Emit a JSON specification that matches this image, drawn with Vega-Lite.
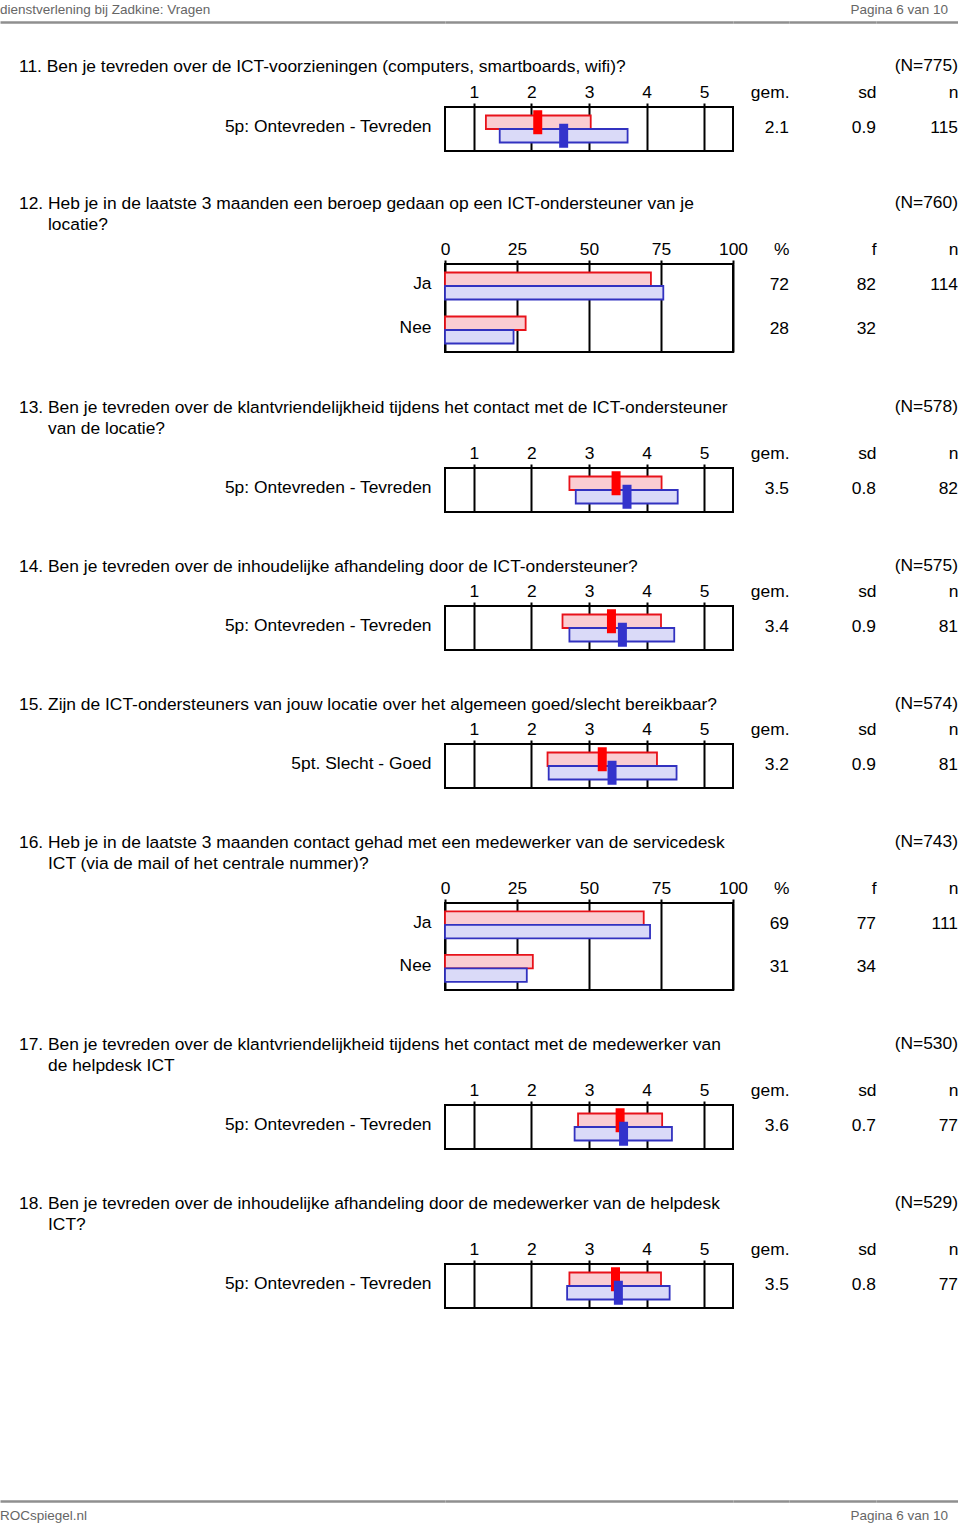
{
  "$schema": "https://vega.github.io/schema/vega-lite/v6.json",
  "padding": {"left": 0, "top": 2, "right": 0, "bottom": 0},
  "columns": 5,
  "spacing": 0,
  "bounds": "flush",
  "align": "each",
  "datasets": {
    "bars5": [
      {"q": 11, "row": "5p: Ontevreden - Tevreden", "group": "locatie", "mean": 2.11, "low": 1.21, "high": 3.03},
      {"q": 11, "row": "5p: Ontevreden - Tevreden", "group": "benchmark", "mean": 2.56, "low": 1.45, "high": 3.67},
      {"q": 13, "row": "5p: Ontevreden - Tevreden", "group": "locatie", "mean": 3.47, "low": 2.66, "high": 4.26},
      {"q": 13, "row": "5p: Ontevreden - Tevreden", "group": "benchmark", "mean": 3.66, "low": 2.77, "high": 4.54},
      {"q": 14, "row": "5p: Ontevreden - Tevreden", "group": "locatie", "mean": 3.39, "low": 2.54, "high": 4.25},
      {"q": 14, "row": "5p: Ontevreden - Tevreden", "group": "benchmark", "mean": 3.58, "low": 2.66, "high": 4.48},
      {"q": 15, "row": "5pt. Slecht - Goed", "group": "locatie", "mean": 3.23, "low": 2.28, "high": 4.18},
      {"q": 15, "row": "5pt. Slecht - Goed", "group": "benchmark", "mean": 3.4, "low": 2.3, "high": 4.52},
      {"q": 17, "row": "5p: Ontevreden - Tevreden", "group": "locatie", "mean": 3.54, "low": 2.81, "high": 4.27},
      {"q": 17, "row": "5p: Ontevreden - Tevreden", "group": "benchmark", "mean": 3.6, "low": 2.75, "high": 4.44},
      {"q": 18, "row": "5p: Ontevreden - Tevreden", "group": "locatie", "mean": 3.46, "low": 2.66, "high": 4.25},
      {"q": 18, "row": "5p: Ontevreden - Tevreden", "group": "benchmark", "mean": 3.51, "low": 2.62, "high": 4.4}
    ],
    "barsPct": [
      {"q": 12, "row": "Ja", "group": "locatie", "pct": 71.5},
      {"q": 12, "row": "Ja", "group": "benchmark", "pct": 75.8},
      {"q": 12, "row": "Nee", "group": "locatie", "pct": 28.0},
      {"q": 12, "row": "Nee", "group": "benchmark", "pct": 23.8},
      {"q": 16, "row": "Ja", "group": "locatie", "pct": 69.0},
      {"q": 16, "row": "Ja", "group": "benchmark", "pct": 71.2},
      {"q": 16, "row": "Nee", "group": "locatie", "pct": 30.5},
      {"q": 16, "row": "Nee", "group": "benchmark", "pct": 28.4}
    ],
    "stats": [
      {"q": 11, "row": "5p: Ontevreden - Tevreden", "col": 1, "stat": "gem.", "v": "2.1"},
      {"q": 11, "row": "5p: Ontevreden - Tevreden", "col": 2, "stat": "sd", "v": "0.9"},
      {"q": 11, "row": "5p: Ontevreden - Tevreden", "col": 3, "stat": "n", "v": "115"},
      {"q": 12, "row": "Ja", "col": 1, "stat": "%", "v": "72"},
      {"q": 12, "row": "Ja", "col": 2, "stat": "f", "v": "82"},
      {"q": 12, "row": "Ja", "col": 3, "stat": "n", "v": "114"},
      {"q": 12, "row": "Nee", "col": 1, "stat": "%", "v": "28"},
      {"q": 12, "row": "Nee", "col": 2, "stat": "f", "v": "32"},
      {"q": 13, "row": "5p: Ontevreden - Tevreden", "col": 1, "stat": "gem.", "v": "3.5"},
      {"q": 13, "row": "5p: Ontevreden - Tevreden", "col": 2, "stat": "sd", "v": "0.8"},
      {"q": 13, "row": "5p: Ontevreden - Tevreden", "col": 3, "stat": "n", "v": "82"},
      {"q": 14, "row": "5p: Ontevreden - Tevreden", "col": 1, "stat": "gem.", "v": "3.4"},
      {"q": 14, "row": "5p: Ontevreden - Tevreden", "col": 2, "stat": "sd", "v": "0.9"},
      {"q": 14, "row": "5p: Ontevreden - Tevreden", "col": 3, "stat": "n", "v": "81"},
      {"q": 15, "row": "5pt. Slecht - Goed", "col": 1, "stat": "gem.", "v": "3.2"},
      {"q": 15, "row": "5pt. Slecht - Goed", "col": 2, "stat": "sd", "v": "0.9"},
      {"q": 15, "row": "5pt. Slecht - Goed", "col": 3, "stat": "n", "v": "81"},
      {"q": 16, "row": "Ja", "col": 1, "stat": "%", "v": "69"},
      {"q": 16, "row": "Ja", "col": 2, "stat": "f", "v": "77"},
      {"q": 16, "row": "Ja", "col": 3, "stat": "n", "v": "111"},
      {"q": 16, "row": "Nee", "col": 1, "stat": "%", "v": "31"},
      {"q": 16, "row": "Nee", "col": 2, "stat": "f", "v": "34"},
      {"q": 17, "row": "5p: Ontevreden - Tevreden", "col": 1, "stat": "gem.", "v": "3.6"},
      {"q": 17, "row": "5p: Ontevreden - Tevreden", "col": 2, "stat": "sd", "v": "0.7"},
      {"q": 17, "row": "5p: Ontevreden - Tevreden", "col": 3, "stat": "n", "v": "77"},
      {"q": 18, "row": "5p: Ontevreden - Tevreden", "col": 1, "stat": "gem.", "v": "3.5"},
      {"q": 18, "row": "5p: Ontevreden - Tevreden", "col": 2, "stat": "sd", "v": "0.8"},
      {"q": 18, "row": "5p: Ontevreden - Tevreden", "col": 3, "stat": "n", "v": "77"}
    ]
  },
  "concat": [
    {"width": 445, "height": 85, "data": {"values": []}, "mark": "point",
     "encoding": {"x": {"field": "x", "type": "quantitative", "scale": {"domain": [0, 1]}, "axis": {"orient": "top", "domainColor": "#8f8f8f", "domainWidth": 2.5, "ticks": false, "labels": false, "grid": false}}},
     "title": {"text": "dienstverlening bij Zadkine: Vragen", "fontSize": 13.5, "color": "#666666", "offset": 6}},
    {"width": 288, "height": 85, "data": {"values": []}, "mark": "point",
     "encoding": {"x": {"field": "x", "type": "quantitative", "scale": {"domain": [0, 1]}, "axis": {"orient": "top", "domainColor": "#8f8f8f", "domainWidth": 2.5, "ticks": false, "labels": false, "grid": false}}}},
    {"width": 56, "height": 85, "data": {"values": []}, "mark": "point",
     "encoding": {"x": {"field": "x", "type": "quantitative", "scale": {"domain": [0, 1]}, "axis": {"orient": "top", "domainColor": "#8f8f8f", "domainWidth": 2.5, "ticks": false, "labels": false, "grid": false}}}},
    {"width": 87, "height": 85, "data": {"values": []}, "mark": "point",
     "encoding": {"x": {"field": "x", "type": "quantitative", "scale": {"domain": [0, 1]}, "axis": {"orient": "top", "domainColor": "#8f8f8f", "domainWidth": 2.5, "ticks": false, "labels": false, "grid": false}}}},
    {"width": 82, "height": 85, "data": {"values": []}, "mark": "point",
     "encoding": {"x": {"field": "x", "type": "quantitative", "scale": {"domain": [0, 1]}, "axis": {"orient": "top", "domainColor": "#8f8f8f", "domainWidth": 2.5, "ticks": false, "labels": false, "grid": false}}},
     "title": {"text": "Pagina 6 van 10", "anchor": "end", "dx": -10, "fontSize": 13.5, "color": "#666666", "offset": 6}},

    {"width": 445, "height": 157, "data": {"values": []}, "mark": "point",
     "title": {"text": "11. Ben je tevreden over de ICT-voorzieningen (computers, smartboards, wifi)?", "dx": 19, "offset": 32}},
    {"width": 288, "height": 44, "view": {"stroke": "black", "strokeWidth": 2},
     "data": {"name": "bars5"}, "transform": [{"filter": "datum.q == 11"}],
     "encoding": {
       "y": {"field": "row", "type": "nominal", "scale": {"paddingInner": 0.386, "paddingOuter": 0.193}, "axis": {"ticks": false, "tickSize": 0, "domain": false, "labelPadding": 14, "labelOffset": -2, "labelLimit": 400}},
       "yOffset": {"field": "group", "type": "nominal", "scale": {"domain": ["locatie", "benchmark"], "paddingInner": 0, "paddingOuter": 0}}
     },
     "layer": [
       {"mark": {"type": "bar", "strokeWidth": 1.8},
        "encoding": {
          "x": {"field": "low", "type": "quantitative", "scale": {"domain": [0.5, 5.5], "nice": false, "zero": false}, "axis": {"orient": "top", "values": [1, 2, 3, 4, 5], "format": "d", "domain": false, "tickSize": 4, "tickWidth": 2, "tickColor": "black", "labelPadding": 2, "grid": true, "gridColor": "black", "gridWidth": 2, "gridOpacity": 1, "labelFlush": false, "labelOverlap": false, "labelAngle": 0}},
          "x2": {"field": "high"},
          "fill": {"field": "group", "type": "nominal", "scale": {"domain": ["locatie", "benchmark"], "range": ["#facdd2", "#dadaf8"]}, "legend": null},
          "stroke": {"field": "group", "type": "nominal", "scale": {"domain": ["locatie", "benchmark"], "range": ["#e8121a", "#3232c0"]}, "legend": null}
        }},
       {"mark": {"type": "tick", "thickness": 9, "size": 24, "opacity": 1},
        "encoding": {
          "x": {"field": "mean", "type": "quantitative"},
          "color": {"field": "group", "type": "nominal", "scale": {"domain": ["locatie", "benchmark"], "range": ["#ff0000", "#3333cc"]}, "legend": null}
        }}
     ]},
    {"width": 56, "height": 44, "data": {"name": "stats"}, "transform": [{"filter": "datum.q == 11 && datum.col == 1"}],
     "mark": {"type": "text", "align": "right", "baseline": "middle", "fontSize": 17.4, "dy": -1, "dx": 28},
     "encoding": {
       "x": {"field": "stat", "type": "nominal", "scale": {"paddingInner": 0, "paddingOuter": 0}, "axis": {"orient": "top", "labelOffset": 28, "labelAlign": "right", "labelAngle": 0, "ticks": false, "tickSize": 0, "domain": false, "labelPadding": 6, "grid": false}},
       "y": {"field": "row", "type": "nominal", "scale": {"domain": ["5p: Ontevreden - Tevreden"], "paddingInner": 0.386, "paddingOuter": 0.193}, "axis": null},
       "text": {"field": "v"}
     }},
    {"width": 87, "height": 44, "data": {"name": "stats"}, "transform": [{"filter": "datum.q == 11 && datum.col == 2"}],
     "mark": {"type": "text", "align": "right", "baseline": "middle", "fontSize": 17.4, "dy": -1, "dx": 43.5},
     "encoding": {
       "x": {"field": "stat", "type": "nominal", "scale": {"paddingInner": 0, "paddingOuter": 0}, "axis": {"orient": "top", "labelOffset": 43.5, "labelAlign": "right", "labelAngle": 0, "ticks": false, "tickSize": 0, "domain": false, "labelPadding": 6, "grid": false}},
       "y": {"field": "row", "type": "nominal", "scale": {"domain": ["5p: Ontevreden - Tevreden"], "paddingInner": 0.386, "paddingOuter": 0.193}, "axis": null},
       "text": {"field": "v"}
     }},
    {"width": 82, "height": 44, "data": {"name": "stats"}, "transform": [{"filter": "datum.q == 11 && datum.col == 3"}],
     "title": {"text": "(N=775)", "anchor": "end", "offset": 9},
     "mark": {"type": "text", "align": "right", "baseline": "middle", "fontSize": 17.4, "dy": -1, "dx": 41},
     "encoding": {
       "x": {"field": "stat", "type": "nominal", "scale": {"paddingInner": 0, "paddingOuter": 0}, "axis": {"orient": "top", "labelOffset": 41, "labelAlign": "right", "labelAngle": 0, "ticks": false, "tickSize": 0, "domain": false, "labelPadding": 6, "grid": false}},
       "y": {"field": "row", "type": "nominal", "scale": {"domain": ["5p: Ontevreden - Tevreden"], "paddingInner": 0.386, "paddingOuter": 0.193}, "axis": null},
       "text": {"field": "v"}
     }},

    {"width": 445, "height": 204, "data": {"values": []}, "mark": "point",
     "title": {"text": "12. Heb je in de laatste 3 maanden een beroep gedaan op een ICT-ondersteuner van je", "dx": 19, "offset": 52}},
    {"width": 288, "height": 88, "view": {"stroke": "black", "strokeWidth": 2},
     "title": {"text": "locatie?", "dx": -397, "offset": 7},
     "data": {"name": "barsPct"}, "transform": [{"filter": "datum.q == 12"}],
     "mark": {"type": "bar", "strokeWidth": 1.8},
     "encoding": {
       "y": {"field": "row", "type": "nominal", "scale": {"domain": ["Ja", "Nee"], "paddingInner": 0.386, "paddingOuter": 0.193}, "axis": {"ticks": false, "tickSize": 0, "domain": false, "labelPadding": 14, "labelOffset": -2, "labelLimit": 400}},
       "yOffset": {"field": "group", "type": "nominal", "scale": {"domain": ["locatie", "benchmark"], "paddingInner": 0, "paddingOuter": 0}},
       "x": {"field": "pct", "type": "quantitative", "scale": {"domain": [0, 100], "nice": false}, "axis": {"orient": "top", "values": [0, 25, 50, 75, 100], "format": "d", "domain": false, "tickSize": 4, "tickWidth": 2, "tickColor": "black", "labelPadding": 2, "grid": true, "gridColor": "black", "gridWidth": 2, "gridOpacity": 1, "labelFlush": false, "labelOverlap": false, "labelAngle": 0}},
       "fill": {"field": "group", "type": "nominal", "scale": {"domain": ["locatie", "benchmark"], "range": ["#facdd2", "#dadaf8"]}, "legend": null},
       "stroke": {"field": "group", "type": "nominal", "scale": {"domain": ["locatie", "benchmark"], "range": ["#e8121a", "#3232c0"]}, "legend": null}
     }},
    {"width": 56, "height": 88, "data": {"name": "stats"}, "transform": [{"filter": "datum.q == 12 && datum.col == 1"}],
     "mark": {"type": "text", "align": "right", "baseline": "middle", "fontSize": 17.4, "dy": -1, "dx": 28},
     "encoding": {
       "x": {"field": "stat", "type": "nominal", "scale": {"paddingInner": 0, "paddingOuter": 0}, "axis": {"orient": "top", "labelOffset": 28, "labelAlign": "right", "labelAngle": 0, "ticks": false, "tickSize": 0, "domain": false, "labelPadding": 6, "grid": false}},
       "y": {"field": "row", "type": "nominal", "scale": {"domain": ["Ja", "Nee"], "paddingInner": 0.386, "paddingOuter": 0.193}, "axis": null},
       "text": {"field": "v"}
     }},
    {"width": 87, "height": 88, "data": {"name": "stats"}, "transform": [{"filter": "datum.q == 12 && datum.col == 2"}],
     "mark": {"type": "text", "align": "right", "baseline": "middle", "fontSize": 17.4, "dy": -1, "dx": 43.5},
     "encoding": {
       "x": {"field": "stat", "type": "nominal", "scale": {"paddingInner": 0, "paddingOuter": 0}, "axis": {"orient": "top", "labelOffset": 43.5, "labelAlign": "right", "labelAngle": 0, "ticks": false, "tickSize": 0, "domain": false, "labelPadding": 6, "grid": false}},
       "y": {"field": "row", "type": "nominal", "scale": {"domain": ["Ja", "Nee"], "paddingInner": 0.386, "paddingOuter": 0.193}, "axis": null},
       "text": {"field": "v"}
     }},
    {"width": 82, "height": 88, "data": {"name": "stats"}, "transform": [{"filter": "datum.q == 12 && datum.col == 3"}],
     "title": {"text": "(N=760)", "anchor": "end", "offset": 29},
     "mark": {"type": "text", "align": "right", "baseline": "middle", "fontSize": 17.4, "dy": -1, "dx": 41},
     "encoding": {
       "x": {"field": "stat", "type": "nominal", "scale": {"paddingInner": 0, "paddingOuter": 0}, "axis": {"orient": "top", "labelOffset": 41, "labelAlign": "right", "labelAngle": 0, "ticks": false, "tickSize": 0, "domain": false, "labelPadding": 6, "grid": false}},
       "y": {"field": "row", "type": "nominal", "scale": {"domain": ["Ja", "Nee"], "paddingInner": 0.386, "paddingOuter": 0.193}, "axis": null},
       "text": {"field": "v"}
     }},

    {"width": 445, "height": 138, "data": {"values": []}, "mark": "point",
     "title": {"text": "13. Ben je tevreden over de klantvriendelijkheid tijdens het contact met de ICT-ondersteuner", "dx": 19, "offset": 52}},
    {"width": 288, "height": 44, "view": {"stroke": "black", "strokeWidth": 2},
     "title": {"text": "van de locatie?", "dx": -397, "offset": 7},
     "data": {"name": "bars5"}, "transform": [{"filter": "datum.q == 13"}],
     "encoding": {
       "y": {"field": "row", "type": "nominal", "scale": {"paddingInner": 0.386, "paddingOuter": 0.193}, "axis": {"ticks": false, "tickSize": 0, "domain": false, "labelPadding": 14, "labelOffset": -2, "labelLimit": 400}},
       "yOffset": {"field": "group", "type": "nominal", "scale": {"domain": ["locatie", "benchmark"], "paddingInner": 0, "paddingOuter": 0}}
     },
     "layer": [
       {"mark": {"type": "bar", "strokeWidth": 1.8},
        "encoding": {
          "x": {"field": "low", "type": "quantitative", "scale": {"domain": [0.5, 5.5], "nice": false, "zero": false}, "axis": {"orient": "top", "values": [1, 2, 3, 4, 5], "format": "d", "domain": false, "tickSize": 4, "tickWidth": 2, "tickColor": "black", "labelPadding": 2, "grid": true, "gridColor": "black", "gridWidth": 2, "gridOpacity": 1, "labelFlush": false, "labelOverlap": false, "labelAngle": 0}},
          "x2": {"field": "high"},
          "fill": {"field": "group", "type": "nominal", "scale": {"domain": ["locatie", "benchmark"], "range": ["#facdd2", "#dadaf8"]}, "legend": null},
          "stroke": {"field": "group", "type": "nominal", "scale": {"domain": ["locatie", "benchmark"], "range": ["#e8121a", "#3232c0"]}, "legend": null}
        }},
       {"mark": {"type": "tick", "thickness": 9, "size": 24, "opacity": 1},
        "encoding": {
          "x": {"field": "mean", "type": "quantitative"},
          "color": {"field": "group", "type": "nominal", "scale": {"domain": ["locatie", "benchmark"], "range": ["#ff0000", "#3333cc"]}, "legend": null}
        }}
     ]},
    {"width": 56, "height": 44, "data": {"name": "stats"}, "transform": [{"filter": "datum.q == 13 && datum.col == 1"}],
     "mark": {"type": "text", "align": "right", "baseline": "middle", "fontSize": 17.4, "dy": -1, "dx": 28},
     "encoding": {
       "x": {"field": "stat", "type": "nominal", "scale": {"paddingInner": 0, "paddingOuter": 0}, "axis": {"orient": "top", "labelOffset": 28, "labelAlign": "right", "labelAngle": 0, "ticks": false, "tickSize": 0, "domain": false, "labelPadding": 6, "grid": false}},
       "y": {"field": "row", "type": "nominal", "scale": {"domain": ["5p: Ontevreden - Tevreden"], "paddingInner": 0.386, "paddingOuter": 0.193}, "axis": null},
       "text": {"field": "v"}
     }},
    {"width": 87, "height": 44, "data": {"name": "stats"}, "transform": [{"filter": "datum.q == 13 && datum.col == 2"}],
     "mark": {"type": "text", "align": "right", "baseline": "middle", "fontSize": 17.4, "dy": -1, "dx": 43.5},
     "encoding": {
       "x": {"field": "stat", "type": "nominal", "scale": {"paddingInner": 0, "paddingOuter": 0}, "axis": {"orient": "top", "labelOffset": 43.5, "labelAlign": "right", "labelAngle": 0, "ticks": false, "tickSize": 0, "domain": false, "labelPadding": 6, "grid": false}},
       "y": {"field": "row", "type": "nominal", "scale": {"domain": ["5p: Ontevreden - Tevreden"], "paddingInner": 0.386, "paddingOuter": 0.193}, "axis": null},
       "text": {"field": "v"}
     }},
    {"width": 82, "height": 44, "data": {"name": "stats"}, "transform": [{"filter": "datum.q == 13 && datum.col == 3"}],
     "title": {"text": "(N=578)", "anchor": "end", "offset": 29},
     "mark": {"type": "text", "align": "right", "baseline": "middle", "fontSize": 17.4, "dy": -1, "dx": 41},
     "encoding": {
       "x": {"field": "stat", "type": "nominal", "scale": {"paddingInner": 0, "paddingOuter": 0}, "axis": {"orient": "top", "labelOffset": 41, "labelAlign": "right", "labelAngle": 0, "ticks": false, "tickSize": 0, "domain": false, "labelPadding": 6, "grid": false}},
       "y": {"field": "row", "type": "nominal", "scale": {"domain": ["5p: Ontevreden - Tevreden"], "paddingInner": 0.386, "paddingOuter": 0.193}, "axis": null},
       "text": {"field": "v"}
     }},

    {"width": 445, "height": 138, "data": {"values": []}, "mark": "point",
     "title": {"text": "14. Ben je tevreden over de inhoudelijke afhandeling door de ICT-ondersteuner?", "dx": 19, "offset": 31}},
    {"width": 288, "height": 44, "view": {"stroke": "black", "strokeWidth": 2},
     "data": {"name": "bars5"}, "transform": [{"filter": "datum.q == 14"}],
     "encoding": {
       "y": {"field": "row", "type": "nominal", "scale": {"paddingInner": 0.386, "paddingOuter": 0.193}, "axis": {"ticks": false, "tickSize": 0, "domain": false, "labelPadding": 14, "labelOffset": -2, "labelLimit": 400}},
       "yOffset": {"field": "group", "type": "nominal", "scale": {"domain": ["locatie", "benchmark"], "paddingInner": 0, "paddingOuter": 0}}
     },
     "layer": [
       {"mark": {"type": "bar", "strokeWidth": 1.8},
        "encoding": {
          "x": {"field": "low", "type": "quantitative", "scale": {"domain": [0.5, 5.5], "nice": false, "zero": false}, "axis": {"orient": "top", "values": [1, 2, 3, 4, 5], "format": "d", "domain": false, "tickSize": 4, "tickWidth": 2, "tickColor": "black", "labelPadding": 2, "grid": true, "gridColor": "black", "gridWidth": 2, "gridOpacity": 1, "labelFlush": false, "labelOverlap": false, "labelAngle": 0}},
          "x2": {"field": "high"},
          "fill": {"field": "group", "type": "nominal", "scale": {"domain": ["locatie", "benchmark"], "range": ["#facdd2", "#dadaf8"]}, "legend": null},
          "stroke": {"field": "group", "type": "nominal", "scale": {"domain": ["locatie", "benchmark"], "range": ["#e8121a", "#3232c0"]}, "legend": null}
        }},
       {"mark": {"type": "tick", "thickness": 9, "size": 24, "opacity": 1},
        "encoding": {
          "x": {"field": "mean", "type": "quantitative"},
          "color": {"field": "group", "type": "nominal", "scale": {"domain": ["locatie", "benchmark"], "range": ["#ff0000", "#3333cc"]}, "legend": null}
        }}
     ]},
    {"width": 56, "height": 44, "data": {"name": "stats"}, "transform": [{"filter": "datum.q == 14 && datum.col == 1"}],
     "mark": {"type": "text", "align": "right", "baseline": "middle", "fontSize": 17.4, "dy": -1, "dx": 28},
     "encoding": {
       "x": {"field": "stat", "type": "nominal", "scale": {"paddingInner": 0, "paddingOuter": 0}, "axis": {"orient": "top", "labelOffset": 28, "labelAlign": "right", "labelAngle": 0, "ticks": false, "tickSize": 0, "domain": false, "labelPadding": 6, "grid": false}},
       "y": {"field": "row", "type": "nominal", "scale": {"domain": ["5p: Ontevreden - Tevreden"], "paddingInner": 0.386, "paddingOuter": 0.193}, "axis": null},
       "text": {"field": "v"}
     }},
    {"width": 87, "height": 44, "data": {"name": "stats"}, "transform": [{"filter": "datum.q == 14 && datum.col == 2"}],
     "mark": {"type": "text", "align": "right", "baseline": "middle", "fontSize": 17.4, "dy": -1, "dx": 43.5},
     "encoding": {
       "x": {"field": "stat", "type": "nominal", "scale": {"paddingInner": 0, "paddingOuter": 0}, "axis": {"orient": "top", "labelOffset": 43.5, "labelAlign": "right", "labelAngle": 0, "ticks": false, "tickSize": 0, "domain": false, "labelPadding": 6, "grid": false}},
       "y": {"field": "row", "type": "nominal", "scale": {"domain": ["5p: Ontevreden - Tevreden"], "paddingInner": 0.386, "paddingOuter": 0.193}, "axis": null},
       "text": {"field": "v"}
     }},
    {"width": 82, "height": 44, "data": {"name": "stats"}, "transform": [{"filter": "datum.q == 14 && datum.col == 3"}],
     "title": {"text": "(N=575)", "anchor": "end", "offset": 8},
     "mark": {"type": "text", "align": "right", "baseline": "middle", "fontSize": 17.4, "dy": -1, "dx": 41},
     "encoding": {
       "x": {"field": "stat", "type": "nominal", "scale": {"paddingInner": 0, "paddingOuter": 0}, "axis": {"orient": "top", "labelOffset": 41, "labelAlign": "right", "labelAngle": 0, "ticks": false, "tickSize": 0, "domain": false, "labelPadding": 6, "grid": false}},
       "y": {"field": "row", "type": "nominal", "scale": {"domain": ["5p: Ontevreden - Tevreden"], "paddingInner": 0.386, "paddingOuter": 0.193}, "axis": null},
       "text": {"field": "v"}
     }},

    {"width": 445, "height": 159, "data": {"values": []}, "mark": "point",
     "title": {"text": "15. Zijn de ICT-ondersteuners van jouw locatie over het algemeen goed/slecht bereikbaar?", "dx": 19, "offset": 31}},
    {"width": 288, "height": 44, "view": {"stroke": "black", "strokeWidth": 2},
     "data": {"name": "bars5"}, "transform": [{"filter": "datum.q == 15"}],
     "encoding": {
       "y": {"field": "row", "type": "nominal", "scale": {"paddingInner": 0.386, "paddingOuter": 0.193}, "axis": {"ticks": false, "tickSize": 0, "domain": false, "labelPadding": 14, "labelOffset": -2, "labelLimit": 400}},
       "yOffset": {"field": "group", "type": "nominal", "scale": {"domain": ["locatie", "benchmark"], "paddingInner": 0, "paddingOuter": 0}}
     },
     "layer": [
       {"mark": {"type": "bar", "strokeWidth": 1.8},
        "encoding": {
          "x": {"field": "low", "type": "quantitative", "scale": {"domain": [0.5, 5.5], "nice": false, "zero": false}, "axis": {"orient": "top", "values": [1, 2, 3, 4, 5], "format": "d", "domain": false, "tickSize": 4, "tickWidth": 2, "tickColor": "black", "labelPadding": 2, "grid": true, "gridColor": "black", "gridWidth": 2, "gridOpacity": 1, "labelFlush": false, "labelOverlap": false, "labelAngle": 0}},
          "x2": {"field": "high"},
          "fill": {"field": "group", "type": "nominal", "scale": {"domain": ["locatie", "benchmark"], "range": ["#facdd2", "#dadaf8"]}, "legend": null},
          "stroke": {"field": "group", "type": "nominal", "scale": {"domain": ["locatie", "benchmark"], "range": ["#e8121a", "#3232c0"]}, "legend": null}
        }},
       {"mark": {"type": "tick", "thickness": 9, "size": 24, "opacity": 1},
        "encoding": {
          "x": {"field": "mean", "type": "quantitative"},
          "color": {"field": "group", "type": "nominal", "scale": {"domain": ["locatie", "benchmark"], "range": ["#ff0000", "#3333cc"]}, "legend": null}
        }}
     ]},
    {"width": 56, "height": 44, "data": {"name": "stats"}, "transform": [{"filter": "datum.q == 15 && datum.col == 1"}],
     "mark": {"type": "text", "align": "right", "baseline": "middle", "fontSize": 17.4, "dy": -1, "dx": 28},
     "encoding": {
       "x": {"field": "stat", "type": "nominal", "scale": {"paddingInner": 0, "paddingOuter": 0}, "axis": {"orient": "top", "labelOffset": 28, "labelAlign": "right", "labelAngle": 0, "ticks": false, "tickSize": 0, "domain": false, "labelPadding": 6, "grid": false}},
       "y": {"field": "row", "type": "nominal", "scale": {"domain": ["5pt. Slecht - Goed"], "paddingInner": 0.386, "paddingOuter": 0.193}, "axis": null},
       "text": {"field": "v"}
     }},
    {"width": 87, "height": 44, "data": {"name": "stats"}, "transform": [{"filter": "datum.q == 15 && datum.col == 2"}],
     "mark": {"type": "text", "align": "right", "baseline": "middle", "fontSize": 17.4, "dy": -1, "dx": 43.5},
     "encoding": {
       "x": {"field": "stat", "type": "nominal", "scale": {"paddingInner": 0, "paddingOuter": 0}, "axis": {"orient": "top", "labelOffset": 43.5, "labelAlign": "right", "labelAngle": 0, "ticks": false, "tickSize": 0, "domain": false, "labelPadding": 6, "grid": false}},
       "y": {"field": "row", "type": "nominal", "scale": {"domain": ["5pt. Slecht - Goed"], "paddingInner": 0.386, "paddingOuter": 0.193}, "axis": null},
       "text": {"field": "v"}
     }},
    {"width": 82, "height": 44, "data": {"name": "stats"}, "transform": [{"filter": "datum.q == 15 && datum.col == 3"}],
     "title": {"text": "(N=574)", "anchor": "end", "offset": 8},
     "mark": {"type": "text", "align": "right", "baseline": "middle", "fontSize": 17.4, "dy": -1, "dx": 41},
     "encoding": {
       "x": {"field": "stat", "type": "nominal", "scale": {"paddingInner": 0, "paddingOuter": 0}, "axis": {"orient": "top", "labelOffset": 41, "labelAlign": "right", "labelAngle": 0, "ticks": false, "tickSize": 0, "domain": false, "labelPadding": 6, "grid": false}},
       "y": {"field": "row", "type": "nominal", "scale": {"domain": ["5pt. Slecht - Goed"], "paddingInner": 0.386, "paddingOuter": 0.193}, "axis": null},
       "text": {"field": "v"}
     }},

    {"width": 445, "height": 202, "data": {"values": []}, "mark": "point",
     "title": {"text": "16. Heb je in de laatste 3 maanden contact gehad met een medewerker van de servicedesk", "dx": 19, "offset": 52}},
    {"width": 288, "height": 87, "view": {"stroke": "black", "strokeWidth": 2},
     "title": {"text": "ICT (via de mail of het centrale nummer)?", "dx": -397, "offset": 7},
     "data": {"name": "barsPct"}, "transform": [{"filter": "datum.q == 16"}],
     "mark": {"type": "bar", "strokeWidth": 1.8},
     "encoding": {
       "y": {"field": "row", "type": "nominal", "scale": {"domain": ["Ja", "Nee"], "paddingInner": 0.386, "paddingOuter": 0.193}, "axis": {"ticks": false, "tickSize": 0, "domain": false, "labelPadding": 14, "labelOffset": -2, "labelLimit": 400}},
       "yOffset": {"field": "group", "type": "nominal", "scale": {"domain": ["locatie", "benchmark"], "paddingInner": 0, "paddingOuter": 0}},
       "x": {"field": "pct", "type": "quantitative", "scale": {"domain": [0, 100], "nice": false}, "axis": {"orient": "top", "values": [0, 25, 50, 75, 100], "format": "d", "domain": false, "tickSize": 4, "tickWidth": 2, "tickColor": "black", "labelPadding": 2, "grid": true, "gridColor": "black", "gridWidth": 2, "gridOpacity": 1, "labelFlush": false, "labelOverlap": false, "labelAngle": 0}},
       "fill": {"field": "group", "type": "nominal", "scale": {"domain": ["locatie", "benchmark"], "range": ["#facdd2", "#dadaf8"]}, "legend": null},
       "stroke": {"field": "group", "type": "nominal", "scale": {"domain": ["locatie", "benchmark"], "range": ["#e8121a", "#3232c0"]}, "legend": null}
     }},
    {"width": 56, "height": 87, "data": {"name": "stats"}, "transform": [{"filter": "datum.q == 16 && datum.col == 1"}],
     "mark": {"type": "text", "align": "right", "baseline": "middle", "fontSize": 17.4, "dy": -1, "dx": 28},
     "encoding": {
       "x": {"field": "stat", "type": "nominal", "scale": {"paddingInner": 0, "paddingOuter": 0}, "axis": {"orient": "top", "labelOffset": 28, "labelAlign": "right", "labelAngle": 0, "ticks": false, "tickSize": 0, "domain": false, "labelPadding": 6, "grid": false}},
       "y": {"field": "row", "type": "nominal", "scale": {"domain": ["Ja", "Nee"], "paddingInner": 0.386, "paddingOuter": 0.193}, "axis": null},
       "text": {"field": "v"}
     }},
    {"width": 87, "height": 87, "data": {"name": "stats"}, "transform": [{"filter": "datum.q == 16 && datum.col == 2"}],
     "mark": {"type": "text", "align": "right", "baseline": "middle", "fontSize": 17.4, "dy": -1, "dx": 43.5},
     "encoding": {
       "x": {"field": "stat", "type": "nominal", "scale": {"paddingInner": 0, "paddingOuter": 0}, "axis": {"orient": "top", "labelOffset": 43.5, "labelAlign": "right", "labelAngle": 0, "ticks": false, "tickSize": 0, "domain": false, "labelPadding": 6, "grid": false}},
       "y": {"field": "row", "type": "nominal", "scale": {"domain": ["Ja", "Nee"], "paddingInner": 0.386, "paddingOuter": 0.193}, "axis": null},
       "text": {"field": "v"}
     }},
    {"width": 82, "height": 87, "data": {"name": "stats"}, "transform": [{"filter": "datum.q == 16 && datum.col == 3"}],
     "title": {"text": "(N=743)", "anchor": "end", "offset": 29},
     "mark": {"type": "text", "align": "right", "baseline": "middle", "fontSize": 17.4, "dy": -1, "dx": 41},
     "encoding": {
       "x": {"field": "stat", "type": "nominal", "scale": {"paddingInner": 0, "paddingOuter": 0}, "axis": {"orient": "top", "labelOffset": 41, "labelAlign": "right", "labelAngle": 0, "ticks": false, "tickSize": 0, "domain": false, "labelPadding": 6, "grid": false}},
       "y": {"field": "row", "type": "nominal", "scale": {"domain": ["Ja", "Nee"], "paddingInner": 0.386, "paddingOuter": 0.193}, "axis": null},
       "text": {"field": "v"}
     }},

    {"width": 445, "height": 159, "data": {"values": []}, "mark": "point",
     "title": {"text": "17. Ben je tevreden over de klantvriendelijkheid tijdens het contact met de medewerker van", "dx": 19, "offset": 52}},
    {"width": 288, "height": 44, "view": {"stroke": "black", "strokeWidth": 2},
     "title": {"text": "de helpdesk ICT", "dx": -397, "offset": 7},
     "data": {"name": "bars5"}, "transform": [{"filter": "datum.q == 17"}],
     "encoding": {
       "y": {"field": "row", "type": "nominal", "scale": {"paddingInner": 0.386, "paddingOuter": 0.193}, "axis": {"ticks": false, "tickSize": 0, "domain": false, "labelPadding": 14, "labelOffset": -2, "labelLimit": 400}},
       "yOffset": {"field": "group", "type": "nominal", "scale": {"domain": ["locatie", "benchmark"], "paddingInner": 0, "paddingOuter": 0}}
     },
     "layer": [
       {"mark": {"type": "bar", "strokeWidth": 1.8},
        "encoding": {
          "x": {"field": "low", "type": "quantitative", "scale": {"domain": [0.5, 5.5], "nice": false, "zero": false}, "axis": {"orient": "top", "values": [1, 2, 3, 4, 5], "format": "d", "domain": false, "tickSize": 4, "tickWidth": 2, "tickColor": "black", "labelPadding": 2, "grid": true, "gridColor": "black", "gridWidth": 2, "gridOpacity": 1, "labelFlush": false, "labelOverlap": false, "labelAngle": 0}},
          "x2": {"field": "high"},
          "fill": {"field": "group", "type": "nominal", "scale": {"domain": ["locatie", "benchmark"], "range": ["#facdd2", "#dadaf8"]}, "legend": null},
          "stroke": {"field": "group", "type": "nominal", "scale": {"domain": ["locatie", "benchmark"], "range": ["#e8121a", "#3232c0"]}, "legend": null}
        }},
       {"mark": {"type": "tick", "thickness": 9, "size": 24, "opacity": 1},
        "encoding": {
          "x": {"field": "mean", "type": "quantitative"},
          "color": {"field": "group", "type": "nominal", "scale": {"domain": ["locatie", "benchmark"], "range": ["#ff0000", "#3333cc"]}, "legend": null}
        }}
     ]},
    {"width": 56, "height": 44, "data": {"name": "stats"}, "transform": [{"filter": "datum.q == 17 && datum.col == 1"}],
     "mark": {"type": "text", "align": "right", "baseline": "middle", "fontSize": 17.4, "dy": -1, "dx": 28},
     "encoding": {
       "x": {"field": "stat", "type": "nominal", "scale": {"paddingInner": 0, "paddingOuter": 0}, "axis": {"orient": "top", "labelOffset": 28, "labelAlign": "right", "labelAngle": 0, "ticks": false, "tickSize": 0, "domain": false, "labelPadding": 6, "grid": false}},
       "y": {"field": "row", "type": "nominal", "scale": {"domain": ["5p: Ontevreden - Tevreden"], "paddingInner": 0.386, "paddingOuter": 0.193}, "axis": null},
       "text": {"field": "v"}
     }},
    {"width": 87, "height": 44, "data": {"name": "stats"}, "transform": [{"filter": "datum.q == 17 && datum.col == 2"}],
     "mark": {"type": "text", "align": "right", "baseline": "middle", "fontSize": 17.4, "dy": -1, "dx": 43.5},
     "encoding": {
       "x": {"field": "stat", "type": "nominal", "scale": {"paddingInner": 0, "paddingOuter": 0}, "axis": {"orient": "top", "labelOffset": 43.5, "labelAlign": "right", "labelAngle": 0, "ticks": false, "tickSize": 0, "domain": false, "labelPadding": 6, "grid": false}},
       "y": {"field": "row", "type": "nominal", "scale": {"domain": ["5p: Ontevreden - Tevreden"], "paddingInner": 0.386, "paddingOuter": 0.193}, "axis": null},
       "text": {"field": "v"}
     }},
    {"width": 82, "height": 44, "data": {"name": "stats"}, "transform": [{"filter": "datum.q == 17 && datum.col == 3"}],
     "title": {"text": "(N=530)", "anchor": "end", "offset": 29},
     "mark": {"type": "text", "align": "right", "baseline": "middle", "fontSize": 17.4, "dy": -1, "dx": 41},
     "encoding": {
       "x": {"field": "stat", "type": "nominal", "scale": {"paddingInner": 0, "paddingOuter": 0}, "axis": {"orient": "top", "labelOffset": 41, "labelAlign": "right", "labelAngle": 0, "ticks": false, "tickSize": 0, "domain": false, "labelPadding": 6, "grid": false}},
       "y": {"field": "row", "type": "nominal", "scale": {"domain": ["5p: Ontevreden - Tevreden"], "paddingInner": 0.386, "paddingOuter": 0.193}, "axis": null},
       "text": {"field": "v"}
     }},

    {"width": 445, "height": 237, "data": {"values": []}, "mark": "point",
     "title": {"text": "18. Ben je tevreden over de inhoudelijke afhandeling door de medewerker van de helpdesk", "dx": 19, "offset": 52}},
    {"width": 288, "height": 44, "view": {"stroke": "black", "strokeWidth": 2},
     "title": {"text": "ICT?", "dx": -397, "offset": 7},
     "data": {"name": "bars5"}, "transform": [{"filter": "datum.q == 18"}],
     "encoding": {
       "y": {"field": "row", "type": "nominal", "scale": {"paddingInner": 0.386, "paddingOuter": 0.193}, "axis": {"ticks": false, "tickSize": 0, "domain": false, "labelPadding": 14, "labelOffset": -2, "labelLimit": 400}},
       "yOffset": {"field": "group", "type": "nominal", "scale": {"domain": ["locatie", "benchmark"], "paddingInner": 0, "paddingOuter": 0}}
     },
     "layer": [
       {"mark": {"type": "bar", "strokeWidth": 1.8},
        "encoding": {
          "x": {"field": "low", "type": "quantitative", "scale": {"domain": [0.5, 5.5], "nice": false, "zero": false}, "axis": {"orient": "top", "values": [1, 2, 3, 4, 5], "format": "d", "domain": false, "tickSize": 4, "tickWidth": 2, "tickColor": "black", "labelPadding": 2, "grid": true, "gridColor": "black", "gridWidth": 2, "gridOpacity": 1, "labelFlush": false, "labelOverlap": false, "labelAngle": 0}},
          "x2": {"field": "high"},
          "fill": {"field": "group", "type": "nominal", "scale": {"domain": ["locatie", "benchmark"], "range": ["#facdd2", "#dadaf8"]}, "legend": null},
          "stroke": {"field": "group", "type": "nominal", "scale": {"domain": ["locatie", "benchmark"], "range": ["#e8121a", "#3232c0"]}, "legend": null}
        }},
       {"mark": {"type": "tick", "thickness": 9, "size": 24, "opacity": 1},
        "encoding": {
          "x": {"field": "mean", "type": "quantitative"},
          "color": {"field": "group", "type": "nominal", "scale": {"domain": ["locatie", "benchmark"], "range": ["#ff0000", "#3333cc"]}, "legend": null}
        }}
     ]},
    {"width": 56, "height": 44, "data": {"name": "stats"}, "transform": [{"filter": "datum.q == 18 && datum.col == 1"}],
     "mark": {"type": "text", "align": "right", "baseline": "middle", "fontSize": 17.4, "dy": -1, "dx": 28},
     "encoding": {
       "x": {"field": "stat", "type": "nominal", "scale": {"paddingInner": 0, "paddingOuter": 0}, "axis": {"orient": "top", "labelOffset": 28, "labelAlign": "right", "labelAngle": 0, "ticks": false, "tickSize": 0, "domain": false, "labelPadding": 6, "grid": false}},
       "y": {"field": "row", "type": "nominal", "scale": {"domain": ["5p: Ontevreden - Tevreden"], "paddingInner": 0.386, "paddingOuter": 0.193}, "axis": null},
       "text": {"field": "v"}
     }},
    {"width": 87, "height": 44, "data": {"name": "stats"}, "transform": [{"filter": "datum.q == 18 && datum.col == 2"}],
     "mark": {"type": "text", "align": "right", "baseline": "middle", "fontSize": 17.4, "dy": -1, "dx": 43.5},
     "encoding": {
       "x": {"field": "stat", "type": "nominal", "scale": {"paddingInner": 0, "paddingOuter": 0}, "axis": {"orient": "top", "labelOffset": 43.5, "labelAlign": "right", "labelAngle": 0, "ticks": false, "tickSize": 0, "domain": false, "labelPadding": 6, "grid": false}},
       "y": {"field": "row", "type": "nominal", "scale": {"domain": ["5p: Ontevreden - Tevreden"], "paddingInner": 0.386, "paddingOuter": 0.193}, "axis": null},
       "text": {"field": "v"}
     }},
    {"width": 82, "height": 44, "data": {"name": "stats"}, "transform": [{"filter": "datum.q == 18 && datum.col == 3"}],
     "title": {"text": "(N=529)", "anchor": "end", "offset": 29},
     "mark": {"type": "text", "align": "right", "baseline": "middle", "fontSize": 17.4, "dy": -1, "dx": 41},
     "encoding": {
       "x": {"field": "stat", "type": "nominal", "scale": {"paddingInner": 0, "paddingOuter": 0}, "axis": {"orient": "top", "labelOffset": 41, "labelAlign": "right", "labelAngle": 0, "ticks": false, "tickSize": 0, "domain": false, "labelPadding": 6, "grid": false}},
       "y": {"field": "row", "type": "nominal", "scale": {"domain": ["5p: Ontevreden - Tevreden"], "paddingInner": 0.386, "paddingOuter": 0.193}, "axis": null},
       "text": {"field": "v"}
     }},

    {"width": 445, "height": 1, "data": {"values": []}, "mark": "point",
     "encoding": {"x": {"field": "x", "type": "quantitative", "scale": {"domain": [0, 1]}, "axis": {"orient": "top", "domainColor": "#8f8f8f", "domainWidth": 2.5, "ticks": false, "labels": false, "grid": false}}},
     "title": {"text": "ROCspiegel.nl", "orient": "bottom", "baseline": "top", "fontSize": 13.5, "color": "#666666", "offset": 7}},
    {"width": 288, "height": 1, "data": {"values": []}, "mark": "point",
     "encoding": {"x": {"field": "x", "type": "quantitative", "scale": {"domain": [0, 1]}, "axis": {"orient": "top", "domainColor": "#8f8f8f", "domainWidth": 2.5, "ticks": false, "labels": false, "grid": false}}}},
    {"width": 56, "height": 1, "data": {"values": []}, "mark": "point",
     "encoding": {"x": {"field": "x", "type": "quantitative", "scale": {"domain": [0, 1]}, "axis": {"orient": "top", "domainColor": "#8f8f8f", "domainWidth": 2.5, "ticks": false, "labels": false, "grid": false}}}},
    {"width": 87, "height": 1, "data": {"values": []}, "mark": "point",
     "encoding": {"x": {"field": "x", "type": "quantitative", "scale": {"domain": [0, 1]}, "axis": {"orient": "top", "domainColor": "#8f8f8f", "domainWidth": 2.5, "ticks": false, "labels": false, "grid": false}}}},
    {"width": 82, "height": 1, "data": {"values": []}, "mark": "point",
     "encoding": {"x": {"field": "x", "type": "quantitative", "scale": {"domain": [0, 1]}, "axis": {"orient": "top", "domainColor": "#8f8f8f", "domainWidth": 2.5, "ticks": false, "labels": false, "grid": false}}},
     "title": {"text": "Pagina 6 van 10", "orient": "bottom", "baseline": "top", "anchor": "end", "dx": -10, "fontSize": 13.5, "color": "#666666", "offset": 7}}
  ],
  "config": {
    "font": "Liberation Sans",
    "view": {"stroke": null},
    "title": {"font": "Liberation Sans", "fontSize": 17.4, "fontWeight": "normal", "color": "black", "anchor": "start", "frame": "group", "baseline": "bottom", "lineHeight": 21, "limit": 1000},
    "axis": {"labelFont": "Liberation Sans", "labelFontSize": 17.4, "labelColor": "black", "title": null},
    "text": {"font": "Liberation Sans", "fontSize": 17.4, "color": "black"}
  }
}
